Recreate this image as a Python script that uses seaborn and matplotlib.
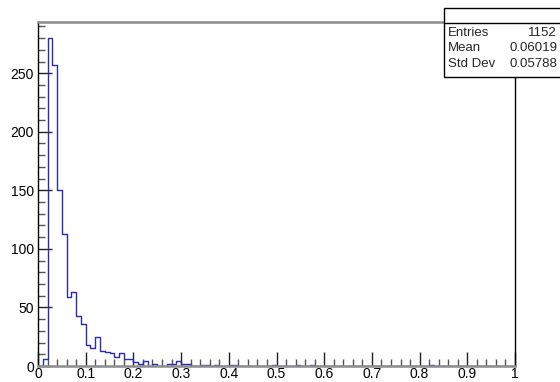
import numpy as np
import pandas as pd
import matplotlib
matplotlib.use("Agg")
import matplotlib.pyplot as plt
import seaborn as sns
from matplotlib.patches import Rectangle
from matplotlib.ticker import MultipleLocator

# histogramme 100 bins sur [0, 1]
n_bins = 100
counts = np.zeros(n_bins)
filled = {
    1: 6, 2: 280, 3: 257, 4: 150, 5: 113, 6: 59, 7: 63, 8: 43, 9: 36,
    10: 18, 11: 15, 12: 25, 13: 13, 14: 12, 15: 11, 16: 8, 17: 11,
    18: 6, 19: 6, 20: 3, 21: 2, 22: 4, 24: 2, 27: 2, 28: 2, 29: 4,
    30: 2, 31: 2, 34: 1, 35: 1, 37: 1, 40: 1, 41: 1, 49: 1, 54: 1,
    57: 1, 82: 1,
}
for k, v in filled.items():
    counts[k] = v

stat_labels = ["Entries", "Mean", "Std Dev"]
stat_values = ["1152", "0.06019", "0.05788"]

x_ticks = [0, 0.1, 0.2, 0.3, 0.4, 0.5, 0.6, 0.7, 0.8, 0.9, 1]
x_tick_labels = ["0", "0.1", "0.2", "0.3", "0.4", "0.5", "0.6", "0.7", "0.8", "0.9", "1"]
y_ticks = [0, 50, 100, 150, 200, 250]

sns.set_style("white")
plt.rcParams["font.family"] = ["Liberation Sans", "DejaVu Sans"]

fig = plt.figure(figsize=(5.6, 3.82), dpi=100)
ax = fig.add_axes([38 / 560, 1 - 366 / 382, 477 / 560, (366 - 21.7) / 382])

df = pd.DataFrame({"x": (np.arange(n_bins) + 0.5) / n_bins, "w": counts})
sns.histplot(data=df, x="x", weights="w", bins=n_bins, binrange=(0, 1),
             element="step", fill=False, color="#2b2bb0", linewidth=1.0, ax=ax)

ax.set_xlim(0, 1)
ax.set_ylim(0, 294)
ax.set_xlabel("")
ax.set_ylabel("")
ax.set_xticks(x_ticks)
ax.set_xticklabels(x_tick_labels)
ax.set_yticks(y_ticks)
ax.xaxis.set_minor_locator(MultipleLocator(0.02))
ax.yaxis.set_minor_locator(MultipleLocator(10))
ax.tick_params(axis="both", which="both", bottom=True, left=True, top=False, right=False)
ax.tick_params(axis="both", which="major", direction="in", length=10, width=1,
               color="#222222", labelcolor="black", labelsize=10, pad=3)
ax.tick_params(axis="x", which="major", pad=1)
ax.tick_params(axis="both", which="minor", direction="in", length=5, width=1,
               color="#555555")
for side in ["left", "right"]:
    ax.spines[side].set_color("black")
    ax.spines[side].set_linewidth(1)
for side in ["top", "bottom"]:
    ax.spines[side].set_color("#8c8c8c")
    ax.spines[side].set_linewidth(1.8)

# boite de stats facon ROOT
box_l, box_b, box_t = 444 / 560, 1 - 77 / 382, 1 - 8.3 / 382
fig.patches.append(Rectangle((box_l, box_b), 0.3, box_t - box_b,
                             transform=fig.transFigure, facecolor="white",
                             edgecolor="black", linewidth=1, zorder=5))
sep_y = 1 - 23.3 / 382
fig.add_artist(plt.Line2D([box_l, 1], [sep_y, sep_y], transform=fig.transFigure,
                          color="black", linewidth=1, zorder=6))
row_y = [33, 48, 64]
for lab, val, yy in zip(stat_labels, stat_values, row_y):
    fig.text(448 / 560, 1 - yy / 382, lab, fontsize=9.5, va="center", ha="left", zorder=7)
    fig.text(557 / 560, 1 - yy / 382, val, fontsize=9.5, va="center", ha="right", zorder=7)

fig.savefig("out.png", dpi=100)
